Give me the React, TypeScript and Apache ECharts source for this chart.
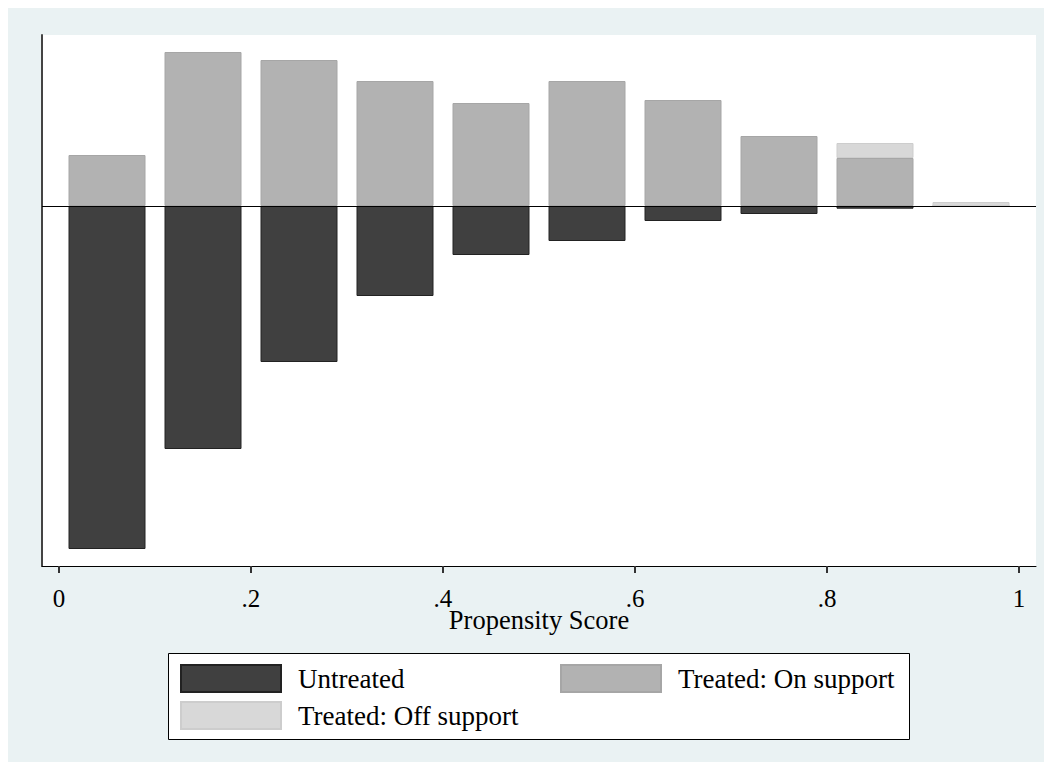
import React, { useEffect, useRef } from "react";
import * as echarts from "echarts";

const binLabels = ["0-.1", ".1-.2", ".2-.3", ".3-.4", ".4-.5", ".5-.6", ".6-.7", ".7-.8", ".8-.9", ".9-1"];
const untreated = [-343, -243, -156, -90, -49, -35, -15, -8, -2.7, null];
const treatedOn = [51, 154, 146, 125, 103, 125, 106, 70, 48, 0];
const treatedOff = [0, 0, 0, 0, 0, 0, 0, 0, 15, 4];
const tickValues = [0, 0.2, 0.4, 0.6, 0.8, 1];
const tickLabels = ["0", ".2", ".4", ".6", ".8", "1"];
const seriesNames = ["Untreated", "Treated: On support", "Treated: Off support"];

const FONT = "'Liberation Serif', 'Times New Roman', serif";
const Y_MIN = -360;
const Y_MAX = 171;

export default function App() {
  const ref = useRef<HTMLDivElement>(null);
  useEffect(() => {
    if (!ref.current) return;
    const chart = echarts.init(ref.current, undefined, { renderer: "svg" });
    const legendText = { fontFamily: FONT, fontSize: 27, color: "#000", padding: [0, 0, 2, 12] };
    const legendBase = { padding: 0, itemWidth: 100, itemHeight: 27, icon: "rect", textStyle: legendText, selectedMode: false };
    chart.setOption({
      animation: false,
      backgroundColor: "#EAF2F3",
      grid: [
        { left: 35, top: 28, right: 9, bottom: 196, show: true, backgroundColor: "#fff", borderWidth: 0 },
        { left: 52, top: 28, right: 26, bottom: 196, show: false },
      ],
      xAxis: [
        {
          type: "value",
          gridIndex: 0,
          min: -0.0177,
          max: 1.0177,
          name: "Propensity Score",
          nameLocation: "middle",
          nameGap: 42,
          nameMoveOverlap: false,
          nameTextStyle: { fontFamily: FONT, fontSize: 26.5, color: "#000", lineHeight: 24 },
          axisLine: { show: true, onZero: false, lineStyle: { color: "#000", width: 1 } },
          axisTick: { show: true, length: 7, lineStyle: { color: "#333", width: 2 }, customValues: tickValues },
          axisLabel: {
            fontFamily: FONT,
            fontSize: 25,
            lineHeight: 22,
            color: "#000",
            margin: 21,
            customValues: tickValues,
            formatter: (v: number) => {
              const i = tickValues.findIndex((t) => Math.abs(t - v) < 1e-6);
              return i >= 0 ? tickLabels[i] : "";
            },
          },
          splitLine: { show: false },
        },
        {
          type: "category",
          gridIndex: 1,
          data: binLabels,
          boundaryGap: true,
          show: false,
        },
      ],
      yAxis: [
        {
          type: "value",
          gridIndex: 0,
          min: Y_MIN,
          max: Y_MAX,
          axisLine: { show: true, onZero: false, lineStyle: { color: "#444", width: 2 } },
          axisTick: { show: false },
          axisLabel: { show: false },
          splitLine: { show: false },
        },
        {
          type: "value",
          gridIndex: 1,
          min: Y_MIN,
          max: Y_MAX,
          show: false,
          splitLine: { show: false },
        },
      ],
      legend: [
        { ...legendBase, data: [seriesNames[0]], left: 173, top: 657 },
        { ...legendBase, data: [seriesNames[1]], left: 553, top: 657 },
        { ...legendBase, data: [seriesNames[2]], left: 173, top: 694 },
      ],
      graphic: [
        {
          type: "rect",
          left: 161,
          top: 646,
          z: -1,
          shape: { width: 741, height: 86 },
          style: { fill: "#fff", stroke: "#000", lineWidth: 1 },
        },
      ],
      series: [
        {
          name: "zero",
          type: "line",
          xAxisIndex: 0,
          yAxisIndex: 0,
          data: [],
          markLine: {
            silent: true,
            symbol: "none",
            label: { show: false },
            lineStyle: { color: "#000", width: 1, type: "solid" },
            data: [{ yAxis: 0 }],
          },
        },
        {
          name: seriesNames[0],
          type: "bar",
          xAxisIndex: 1,
          yAxisIndex: 1,
          data: untreated,
          barWidth: 77,
          barGap: "-100%",
          itemStyle: { color: "#404040", borderColor: "#222", borderWidth: 1 },
        },
        {
          name: seriesNames[1],
          type: "bar",
          xAxisIndex: 1,
          yAxisIndex: 1,
          stack: "treated",
          data: treatedOn,
          barWidth: 77,
          barGap: "-100%",
          itemStyle: { color: "#b2b2b2", borderColor: "#a6a6a6", borderWidth: 1 },
        },
        {
          name: seriesNames[2],
          type: "bar",
          xAxisIndex: 1,
          yAxisIndex: 1,
          stack: "treated",
          data: treatedOff.map((v) => (v === 0 ? { value: 0, itemStyle: { borderWidth: 0 } } : v)),
          barWidth: 77,
          barGap: "-100%",
          itemStyle: { color: "#d8d8d8", borderColor: "#cdcdcd", borderWidth: 1 },
        },
      ],
    });
    return () => chart.dispose();
  }, []);
  return <div ref={ref} style={{ width: 1038, height: 755, marginLeft: -1, marginTop: -1 }} />;
}
